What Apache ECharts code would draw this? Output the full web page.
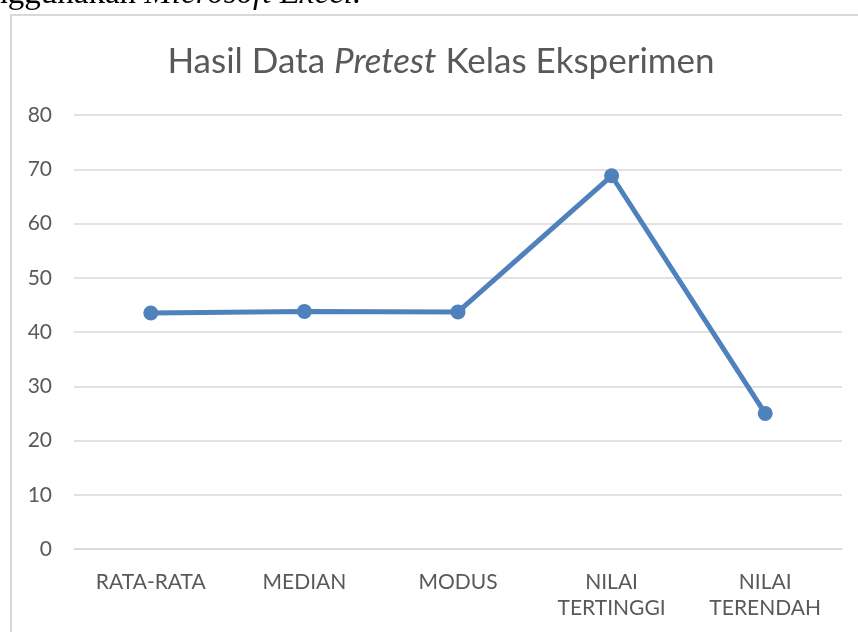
<!DOCTYPE html>
<html>
<head>
<meta charset="utf-8">
<script src="https://cdn.jsdelivr.net/npm/echarts@6/dist/echarts.min.js"></script>
<style>
  html, body { margin: 0; padding: 0; background: #fff; }
  #echart { width: 858px; height: 632px; }
</style>
</head>
<body>
<div id="echart"></div>
<script>
var categories = ["RATA-RATA", "MEDIAN", "MODUS", "NILAI\nTERTINGGI", "NILAI\nTERENDAH"];
var pretestValues = [43.5, 43.8, 43.7, 68.8, 25];
var yTicks = [0, 10, 20, 30, 40, 50, 60, 70, 80];

var chartDom = document.getElementById('echart');
var myChart = echarts.init(chartDom);

var option = {
    backgroundColor: "#fff",
    textStyle: { fontFamily: "Lato" },
    graphic: [
        {
            // chart area frame from the document
            type: "rect",
            shape: { x: 11, y: 15, width: 900, height: 700 },
            style: { fill: "none", stroke: "#d9d9d9", lineWidth: 2 }
        },
        {
            // clipped line of document text above the chart
            type: "text",
            left: -49,
            top: -22,
            style: {
                text: "{n|menggunakan }{i|Microsoft Excel.}",
                rich: {
                    n: { fontFamily: "Liberation Serif", fontSize: 33, fill: "#000" },
                    i: { fontFamily: "Liberation Serif", fontSize: 33, fontStyle: "italic", fill: "#000" }
                }
            }
        }
    ],
    title: {
        text: "{a|Hasil Data }{b|Pretest}{a| Kelas Eksperimen}",
        left: 436,
        textAlign: "center",
        top: 39,
        textStyle: {
            rich: {
                a: { fontFamily: "Lato", fontSize: 35, fontWeight: "normal", color: "#595959" },
                b: { fontFamily: "Lato", fontSize: 35, fontWeight: "normal", fontStyle: "italic", color: "#595959" }
            }
        }
    },
    grid: { left: 74, right: 16, top: 115, bottom: 83 },
    xAxis: {
        type: "category",
        data: categories,
        boundaryGap: true,
        axisLine: { show: true, lineStyle: { color: "#d9d9d9", width: 1.5 } },
        axisTick: { show: false },
        axisLabel: {
            color: "#595959",
            fontSize: 21,
            fontFamily: "Lato",
            lineHeight: 26,
            margin: 20
        }
    },
    yAxis: {
        type: "value",
        min: yTicks[0],
        max: yTicks[yTicks.length - 1],
        interval: 10,
        axisLine: { show: false },
        axisTick: { show: false },
        axisLabel: { color: "#595959", fontSize: 21, fontFamily: "Lato", margin: 22 },
        splitLine: { lineStyle: { color: "#d9d9d9", width: 1.5 } }
    },
    series: [{
        name: "Pretest",
        type: "line",
        data: pretestValues,
        symbol: "circle",
        symbolSize: 15,
        itemStyle: { color: "#4f81bd" },
        lineStyle: { color: "#4f81bd", width: 5 },
        animation: false
    }]
};

myChart.setOption(option);

window.addEventListener("resize", function () {
    myChart.resize();
});
</script>
</body>
</html>
